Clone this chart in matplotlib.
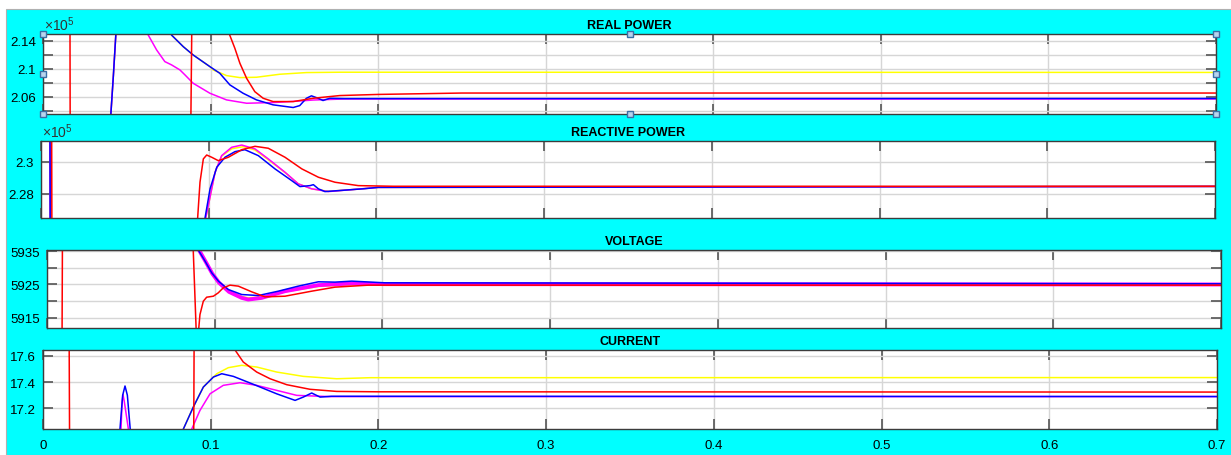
import numpy as np
import matplotlib.pyplot as plt
from matplotlib.patches import Rectangle

plt.rcParams['font.family'] = ['Liberation Sans', 'DejaVu Sans']

# ---------------- data ----------------
x_ticks = [0, 0.1, 0.2, 0.3, 0.4, 0.5, 0.6, 0.7]
x_tick_labels = ['0', '0.1', '0.2', '0.3', '0.4', '0.5', '0.6', '0.7']

# REAL POWER (x 1e5)
p_red_t = [0, 0.0160, 0.0163, 0.0877, 0.0894, 0.1100, 0.1111, 0.1145, 0.1175, 0.1215, 0.1264,
           0.1314, 0.1373, 0.1493, 0.1612, 0.1771, 0.2000, 0.2500, 0.7]
p_red = [2.30, 2.30, 1.90, 1.90, 2.30, 2.16, 2.150, 2.129, 2.1076, 2.0861, 2.067,
         2.0575, 2.0528, 2.0528, 2.0575, 2.0614, 2.063, 2.065, 2.065]
p_blue_t = [0, 0.0405, 0.0420, 0.0435, 0.0450, 0.0740, 0.0767, 0.0837, 0.0896, 0.0996, 0.1055,
            0.1115, 0.1194, 0.1274, 0.1373, 0.1493, 0.1532, 0.1572, 0.1602, 0.1642, 0.1671,
            0.1711, 0.1800, 0.7]
p_blue = [1.90, 2.035, 2.090, 2.150, 2.30, 2.30, 2.148, 2.1314, 2.1195, 2.1028, 2.0933,
          2.0767, 2.0647, 2.0552, 2.0481, 2.0443, 2.047, 2.0575, 2.061, 2.0575, 2.0543,
          2.0575, 2.0570, 2.0572]
p_mag_t = [0, 0.0405, 0.0420, 0.0435, 0.0450, 0.0610, 0.0628, 0.0678, 0.0727, 0.0767, 0.0817,
           0.0847, 0.0896, 0.0996, 0.1095, 0.1215, 0.1373, 0.1493, 0.1612, 0.1800, 0.7]
p_mag = [1.90, 2.035, 2.090, 2.150, 2.30, 2.30, 2.148, 2.1267, 2.110, 2.1053, 2.0981,
         2.091, 2.079, 2.0647, 2.0552, 2.0504, 2.0514, 2.053, 2.055, 2.0565, 2.0565]
p_yel_t = [0, 0.0405, 0.0420, 0.0435, 0.0450, 0.0740, 0.0767, 0.0837, 0.0896, 0.0996, 0.1016,
           0.1095, 0.1175, 0.1274, 0.1413, 0.1572, 0.1771, 0.7]
p_yel = [1.90, 2.035, 2.090, 2.150, 2.30, 2.30, 2.148, 2.1314, 2.1195, 2.1028, 2.098,
         2.090, 2.0871, 2.0876, 2.0919, 2.0943, 2.0948, 2.0945]

# REACTIVE POWER (x 1e5)
q_red_t = [0, 0.0062, 0.0066, 0.0920, 0.0934, 0.0948, 0.0968, 0.0988, 0.1018, 0.1057, 0.1117,
           0.1197, 0.1276, 0.1355, 0.1455, 0.1555, 0.1654, 0.1753, 0.1892, 0.2100, 0.7]
q_red = [2.40, 2.40, 2.20, 2.20, 2.265, 2.2872, 2.3017, 2.3041, 2.3027, 2.3006, 2.3027,
         2.3074, 2.3095, 2.3083, 2.3027, 2.2955, 2.2903, 2.2872, 2.2851, 2.2847, 2.2847]
q_blue_t = [0, 0.0052, 0.0056, 0.0960, 0.0978, 0.1008, 0.1048, 0.1097, 0.1157, 0.1216, 0.1296,
            0.1395, 0.1495, 0.1544, 0.1604, 0.1624, 0.1654, 0.1693, 0.1773, 0.1852, 0.1930,
            0.2010, 0.7]
q_blue = [2.40, 2.40, 2.20, 2.20, 2.265, 2.2831, 2.2965, 2.3027, 2.3062, 2.3074, 2.3037,
          2.2955, 2.2882, 2.2845, 2.2851, 2.2857, 2.2831, 2.2814, 2.2820, 2.2826, 2.2832,
          2.2840, 2.2846]
q_mag_t = [0, 0.0052, 0.0056, 0.0965, 0.0982, 0.0998, 0.1038, 0.1077, 0.1137, 0.1197, 0.1276,
           0.1355, 0.1455, 0.1534, 0.1614, 0.1713, 0.1852, 0.2010, 0.7]
q_mag = [2.40, 2.40, 2.20, 2.20, 2.265, 2.2728, 2.2934, 2.3037, 2.3089, 2.3103, 2.3079,
         2.3017, 2.2934, 2.2862, 2.2831, 2.2814, 2.2826, 2.2840, 2.2846]
q_yel_t = [0, 0.0052, 0.0056, 0.0965, 0.0982, 0.0998, 0.1038, 0.1077, 0.1137, 0.1206, 0.1276,
           0.1355, 0.1455, 0.1534, 0.1614, 0.1713, 0.1852, 0.2010, 0.7]
q_yel = [2.40, 2.40, 2.20, 2.20, 2.265, 2.2730, 2.2935, 2.3034, 2.3080, 2.3093, 2.3072,
         2.3012, 2.2932, 2.2862, 2.2831, 2.2816, 2.2826, 2.2840, 2.2846]

# VOLTAGE
v_red_t = [0, 0.0089, 0.0093, 0.0860, 0.0872, 0.0889, 0.0900, 0.0905, 0.0912, 0.0932, 0.0952,
           0.0992, 0.1021, 0.1051, 0.1091, 0.1141, 0.1221, 0.1300, 0.1419, 0.1578, 0.1717,
           0.1916, 0.7]
v_red = [5900, 5900, 5950, 5950, 5935.2, 5912, 5905, 5912, 5916, 5920, 5921.2,
         5921.5, 5922.5, 5924.0, 5924.8, 5924.5, 5922.8, 5921.3, 5921.5, 5923.0, 5924.2,
         5924.8, 5924.8]
v_blue_t = [0, 0.0850, 0.0902, 0.0942, 0.0982, 0.1022, 0.1081, 0.1161, 0.1260, 0.1379, 0.1498,
            0.1618, 0.1717, 0.1817, 0.2015, 0.7]
v_blue = [5950, 5950, 5935.3, 5932.0, 5928.5, 5926.0, 5923.5, 5922.0, 5921.7, 5923.0, 5924.5,
          5925.8, 5925.7, 5926.0, 5925.5, 5925.2]
v_mag_t = [0, 0.0850, 0.0906, 0.0946, 0.0986, 0.1026, 0.1085, 0.1161, 0.1200, 0.1280, 0.1419,
           0.1618, 0.1817, 0.2015, 0.7]
v_mag = [5950, 5950, 5935.3, 5931.8, 5928.2, 5925.5, 5922.8, 5921.0, 5920.5, 5921.0, 5923.0,
         5924.8, 5925.3, 5925.1, 5925.0]
v_yel_t = [0, 0.0850, 0.0906, 0.0946, 0.0986, 0.1026, 0.1085, 0.1161, 0.1200, 0.1280, 0.1419,
           0.1618, 0.1817, 0.2015, 0.7]
v_yel = [5950, 5950, 5935.3, 5931.8, 5928.2, 5925.6, 5923.0, 5921.4, 5921.0, 5921.3, 5922.8,
         5924.4, 5924.9, 5924.9, 5924.8]

# CURRENT
i_red_t = [0, 0.0155, 0.0159, 0.0898, 0.0902, 0.1130, 0.1145, 0.1194, 0.1274, 0.1354, 0.1453,
           0.1592, 0.1751, 0.2000, 0.7]
i_red = [18.0, 18.0, 16.8, 16.8, 18.0, 17.70, 17.643, 17.552, 17.476, 17.425, 17.380,
         17.345, 17.329, 17.326, 17.324]
i_blue_t = [0, 0.0450, 0.0459, 0.0475, 0.0489, 0.0503, 0.0520, 0.0530, 0.0825, 0.0837, 0.0896,
            0.0956, 0.1016, 0.1066, 0.1135, 0.1254, 0.1393, 0.1503, 0.1552, 0.1602, 0.1652,
            0.1720, 0.7]
i_blue = [16.8, 16.8, 17.044, 17.30, 17.37, 17.30, 17.044, 16.8, 16.8, 17.044, 17.21,
          17.362, 17.438, 17.463, 17.443, 17.383, 17.311, 17.261, 17.286, 17.317, 17.286,
          17.292, 17.290]
i_mag_t = [0, 0.0458, 0.0465, 0.0472, 0.0477, 0.0485, 0.0509, 0.0516, 0.0880, 0.0887, 0.0936,
           0.0996, 0.1075, 0.1175, 0.1274, 0.1393, 0.1513, 0.1700, 0.7]
i_mag = [16.8, 16.8, 17.044, 17.25, 17.305, 17.25, 17.044, 16.8, 16.8, 17.044, 17.185,
         17.311, 17.375, 17.395, 17.375, 17.337, 17.299, 17.290, 17.290]
i_yel_t = [0, 0.0825, 0.0837, 0.0896, 0.0956, 0.1016, 0.1036, 0.1105, 0.1185, 0.1274, 0.1393,
           0.1552, 0.1751, 0.1950, 0.7]
i_yel = [16.8, 16.8, 17.044, 17.21, 17.362, 17.438, 17.463, 17.509, 17.527, 17.514, 17.476,
         17.443, 17.425, 17.433, 17.434]

panels = [
    dict(title='REAL POWER', rect=[43, 35, 1216, 115], ylim=(2.035, 2.1495),
         yticks=[2.04, 2.06, 2.08, 2.10, 2.12, 2.14], ylabels=['', '2.06', '', '2.1', '', '2.14'],
         series=[(p_yel_t, p_yel, 'yellow'), (p_mag_t, p_mag, 'magenta'),
                 (p_blue_t, p_blue, 'blue'), (p_red_t, p_red, 'red')], expo=True),
    dict(title='REACTIVE POWER', rect=[41, 142, 1215, 219], ylim=(2.265, 2.3128),
         yticks=[2.28, 2.30], ylabels=['2.28', '2.3'],
         series=[(q_yel_t, q_yel, 'yellow'), (q_mag_t, q_mag, 'magenta'),
                 (q_blue_t, q_blue, 'blue'), (q_red_t, q_red, 'red')], expo=True),
    dict(title='VOLTAGE', rect=[47, 251, 1221, 329], ylim=(5912, 5935.3),
         yticks=[5915, 5920, 5925, 5930, 5935], ylabels=['5915', '', '5925', '', '5935'],
         series=[(v_yel_t, v_yel, 'yellow'), (v_mag_t, v_mag, 'magenta'),
                 (v_blue_t, v_blue, 'blue'), (v_red_t, v_red, 'red')], expo=False),
    dict(title='CURRENT', rect=[43, 351, 1217, 430], ylim=(17.044, 17.643),
         yticks=[17.2, 17.4, 17.6], ylabels=['17.2', '17.4', '17.6'],
         series=[(i_yel_t, i_yel, 'yellow'), (i_mag_t, i_mag, 'magenta'),
                 (i_blue_t, i_blue, 'blue'), (i_red_t, i_red, 'red')], expo=False),
]

W, H = 1231, 456
fig = plt.figure(figsize=(W / 100, H / 100), dpi=100, facecolor='white')

# cyan scope background
fig.add_artist(Rectangle((6 / W, 0), 1 - 6 / W, 1 - 10 / H, transform=fig.transFigure,
                         facecolor='#00ffff', edgecolor='#b0b0b0', lw=0.8, zorder=-10))

for k, p in enumerate(panels):
    x0, y0, x1, y1 = p['rect']
    ax = fig.add_axes([x0 / W, 1 - y1 / H, (x1 - x0) / W, (y1 - y0) / H])
    ax.set_facecolor('white')
    for t, v, c in p['series']:
        lw = 2.8 if (c == 'magenta' and k == 2) else 1.1
        ax.plot(t, v, color=c, lw=lw)
    ax.set_xlim(0, 0.7)
    ax.set_ylim(*p['ylim'])
    ax.set_xticks(x_ticks)
    ax.set_yticks(p['yticks'])
    ax.set_yticklabels(p['ylabels'])
    if k == 3:
        ax.set_xticklabels(x_tick_labels)
    else:
        ax.set_xticklabels([])
    ax.grid(True, color='#d6d6d6', lw=1.0)
    ax.set_axisbelow(True)
    ax.tick_params(axis='both', direction='in', top=True, right=True, labelsize=9.5,
                   length=7, width=1.2, color='#555555')
    ax.tick_params(axis='y', pad=5)
    ax.tick_params(axis='x', pad=7)
    for s in ax.spines.values():
        s.set_color('#3c3c3c')
        s.set_linewidth(1.0)
    ax.set_title(p['title'], fontsize=9, fontweight='bold', pad=4)
    if p['expo']:
        ax.text(0.001, 1.01, r'$\mathregular{\times10^5}$', transform=ax.transAxes,
                ha='left', va='bottom', fontsize=10, color='#333333')
    if k == 0:
        # selection handles of the active axes
        hx = [0, 0, 0, 0.5, 0.5, 1, 1, 1]
        hy = [0, 0.5, 1, 0, 1, 0, 0.5, 1]
        ax.plot(hx, hy, ls='none', marker='s', ms=4.5, mfc='#b8d4ee', mec='#3a6ea5',
                mew=1.0, transform=ax.transAxes, clip_on=False, zorder=10)

fig.savefig('out.png', dpi=100, facecolor=fig.get_facecolor())
